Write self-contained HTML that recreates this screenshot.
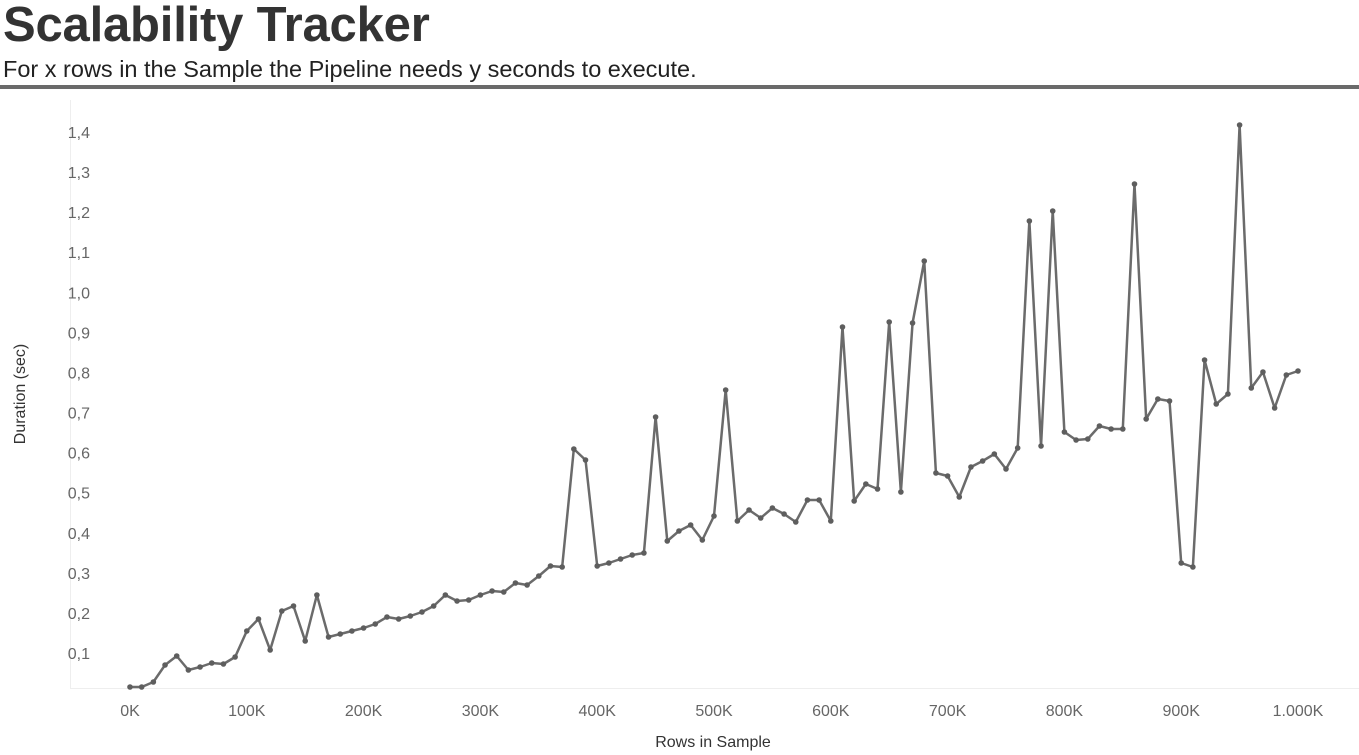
<!DOCTYPE html>
<html><head><meta charset="utf-8"><style>
body{margin:0;width:1359px;height:755px;background:#fff;overflow:hidden;font-family:"Liberation Sans",sans-serif}
.t{position:absolute;left:3px;top:-3px;font-size:49px;font-weight:bold;color:#333;letter-spacing:-0.2px}
.s{position:absolute;left:3px;top:56px;font-size:23.5px;color:#222}
.bar{position:absolute;left:0;top:85px;width:1359px;height:4px;background:#6a6a6a}
</style></head><body>
<div class="t">Scalability Tracker</div>
<div class="s">For x rows in the Sample the Pipeline needs y seconds to execute.</div>
<div class="bar"></div>
<svg width="1359" height="755" style="position:absolute;left:0;top:0" font-family="Liberation Sans, sans-serif">
<line x1="70.5" y1="100" x2="70.5" y2="688" stroke="#eee"/>
<line x1="70" y1="688.5" x2="1359" y2="688.5" stroke="#eee"/>
<g font-size="16" fill="#666" text-anchor="end" id="yt"></g>
<g font-size="16" fill="#666" text-anchor="middle" id="xt"></g>
<text x="25" y="394" font-size="16" fill="#333" transform="rotate(-90 25 394)" text-anchor="middle">Duration (sec)</text>
<text x="713" y="747" font-size="16" fill="#333" text-anchor="middle">Rows in Sample</text>
<polyline id="ln" fill="none" stroke="#6b6b6b" stroke-width="2.5" stroke-linejoin="round"/>
<g id="dots" fill="#5e5e5e"></g>
</svg>
<script>
var ys=[687,687,682,665,656,670,667,663,664,657,631,619,650,611,606,641,595,637,634,631,628,624,617,619,616,612,606,595,601,600,595,591,592,583,585,576,566,567,449,460,566,563,559,555,553,417,541,531,525,540,516,390,521,510,518,508,514,522,500,500,521,327,501,484,489,322,492,323,261,473,476,497,467,461,454,469,448,221,446,211,432,440,439,426,429,429,184,419,399,401,563,567,360,404,394,125,388,372,408,375,371];
var ns="http://www.w3.org/2000/svg",pts=[],d=document.getElementById('dots');
ys.forEach(function(y,i){var x=130+i*11.68;pts.push(x+','+y);var c=document.createElementNS(ns,'circle');c.setAttribute('cx',x);c.setAttribute('cy',y);c.setAttribute('r',2.8);d.appendChild(c);});
document.getElementById('ln').setAttribute('points',pts.join(' '));
var yt=document.getElementById('yt');
for(var k=1;k<=14;k++){var t=document.createElementNS(ns,'text');t.setAttribute('x',90);t.setAttribute('y',653-(k-1)*40.08+6);t.textContent=(k/10).toFixed(1).replace('.',',');yt.appendChild(t);}
var xt=document.getElementById('xt');
for(var k=0;k<=10;k++){var t=document.createElementNS(ns,'text');t.setAttribute('x',130+k*116.8);t.setAttribute('y',716);t.textContent=k==10?'1.000K':(k*100)+'K';xt.appendChild(t);}
</script>
</body></html>
